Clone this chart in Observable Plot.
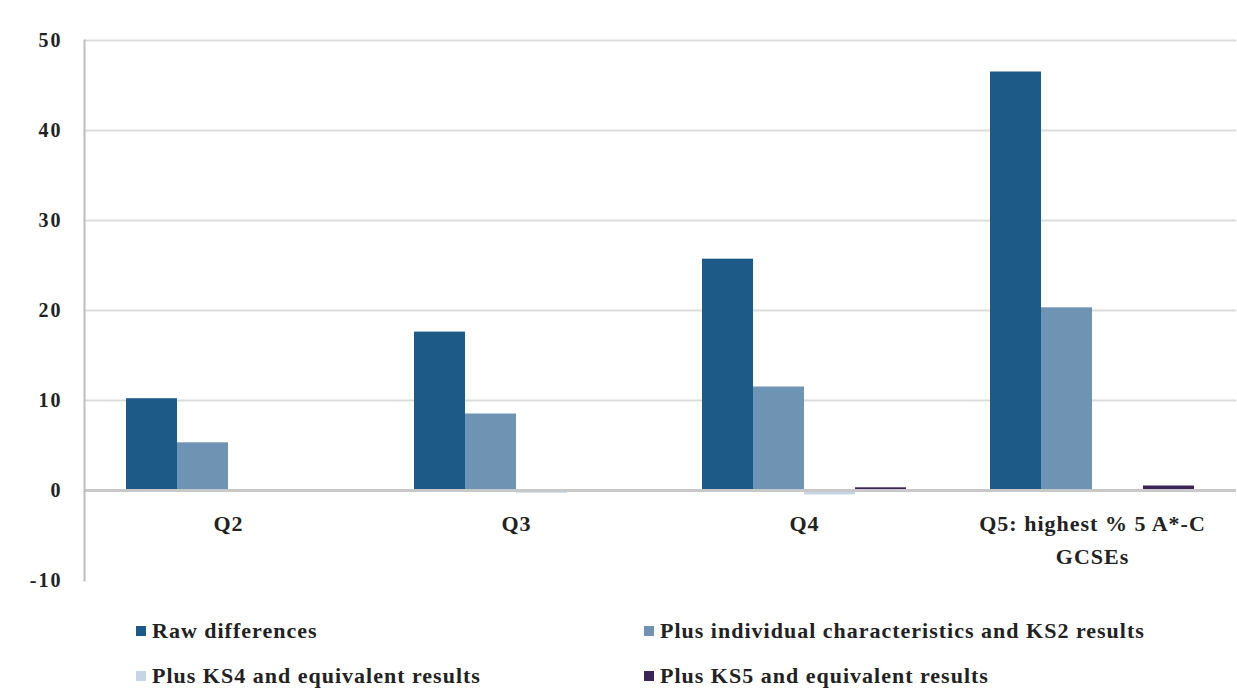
<!DOCTYPE html>
<html>
<head>
<meta charset="utf-8">
<script src="https://cdn.jsdelivr.net/npm/d3@7"></script>
<script src="https://cdn.jsdelivr.net/npm/@observablehq/plot@0.6"></script>
<style>
  body { margin: 0; background: #fff; font-family: "Liberation Serif", serif; }
  #legend { position: relative; width: 1237px; height: 92px; font-weight: bold; font-size: 22px; letter-spacing: 1px; color: #222; }
  .item { position: absolute; display: flex; align-items: center; white-space: nowrap; }
  .sw { width: 10px; height: 10px; margin-right: 6px; }
  g[aria-label="y-axis tick label"] text { letter-spacing: 2px; }
  g[aria-label="text"] text { letter-spacing: 1px; }
</style>
</head>
<body>
<div id="chart"></div>
<div id="legend"></div>
<script>
const categories = ["Q2", "Q3", "Q4", "Q5: highest % 5 A*-C\nGCSEs"];
const series = ["Raw differences", "Plus individual characteristics and KS2 results", "Plus KS4 and equivalent results", "Plus KS5 and equivalent results"];
const raw = [10.2, 17.6, 25.7, 46.5];
const plusKS2 = [5.3, 8.5, 11.5, 20.3];
const plusKS4 = [0.0, -0.3, -0.5, 0.1];
const plusKS5 = [0.0, 0.0, 0.3, 0.5];
const colors = ["#1d5a87", "#6f93b3", "#c5d5e5", "#3a2455"];
const yTicks = [-10, 0, 10, 20, 30, 40, 50];

const allValues = [raw, plusKS2, plusKS4, plusKS5];
const data = [];
categories.forEach((c, i) => series.forEach((s, j) => data.push({category: c, series: s, value: allValues[j][i]})));

const chart = Plot.plot({
  width: 1237,
  height: 600,
  marginLeft: 82,
  marginRight: 0,
  marginTop: 40,
  marginBottom: 20,
  style: {fontFamily: "Liberation Serif, serif", fontSize: "22px", fontWeight: "bold", color: "#222"},
  fx: {domain: categories, padding: 0, axis: null},
  x: {domain: series, paddingInner: 0, paddingOuter: 0.78, axis: null},
  y: {domain: [-10, 50], ticks: yTicks, label: null},
  color: {domain: series, range: colors},
  marks: [
    Plot.ruleY([10, 20, 30, 40, 50], {stroke: "#dcdcdc", strokeWidth: 2}),
    Plot.barY(data, {fx: "category", x: "series", y: "value", fill: "series"}),
    Plot.ruleY([0], {stroke: "#c8c8c8", strokeWidth: 3}),
    Plot.text(categories, {fx: d => d, y: 0, dy: 17, text: d => d, lineAnchor: "top", lineHeight: 1.5, fontSize: 22, fontWeight: "bold", fill: "#222"}),
    Plot.axisY({ticks: yTicks, tickSize: 0, tickPadding: 22, tickFormat: d => String(d), fontSize: 20, fontWeight: "bold", label: null, facetAnchor: "left"}),
    Plot.frame({anchor: "left", facetAnchor: "left", stroke: "#bdbdbd", strokeWidth: 2})
  ]
});
document.getElementById("chart").appendChild(chart);

const legend = document.getElementById("legend");
const pos = [[136, 32], [644, 32], [136, 77], [644, 77]];
series.forEach((s, i) => {
  const it = document.createElement("div");
  it.className = "item";
  it.style.left = pos[i][0] + "px";
  it.style.top = (pos[i][1] - 14) + "px";
  it.innerHTML = `<span class="sw" style="background:${colors[i]}"></span><span></span>`;
  it.lastChild.textContent = s;
  legend.appendChild(it);
});
</script>
</body>
</html>
